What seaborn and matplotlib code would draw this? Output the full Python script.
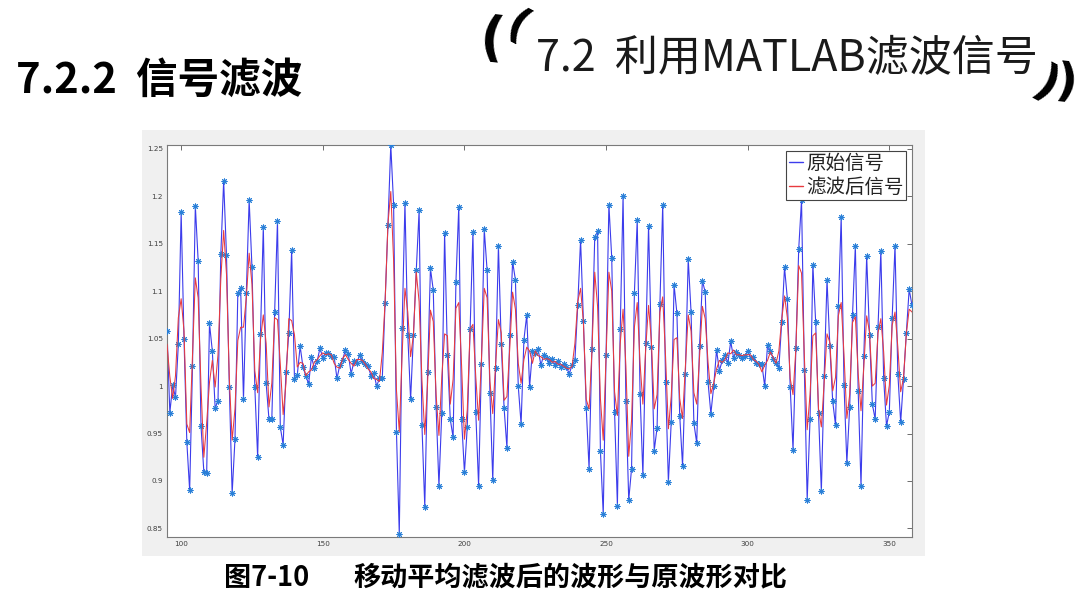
import numpy as np
import pandas as pd
import seaborn as sns
import matplotlib.pyplot as plt
from matplotlib.lines import Line2D

# sample index of the first visible point (MATLAB view zoomed to 95..358)
sample_start = 95

raw_signal = [
    1.058, 0.972, 1.001, 0.988, 1.044, 1.183, 1.050, 0.941, 0.890, 1.021,
    1.190, 1.132, 0.958, 0.910, 0.908, 1.066, 1.037, 0.977, 0.984, 1.139,
    1.216, 1.138, 0.999, 0.887, 0.944, 1.098, 1.103, 0.986, 1.098, 1.196,
    1.125, 0.999, 0.925, 1.055, 1.168, 1.003, 0.965, 0.965, 1.078, 1.174,
    0.957, 0.938, 1.015, 1.056, 1.143, 1.007, 1.012, 1.042, 1.020, 1.011,
    1.002, 1.031, 1.019, 1.026, 1.040, 1.030, 1.035, 1.035, 1.032, 1.031,
    1.008, 1.022, 1.028, 1.038, 1.034, 1.013, 1.026, 1.024, 1.033, 1.026,
    1.023, 1.021, 1.011, 1.014, 1.000, 1.008, 1.008, 1.088, 1.170, 1.254,
    1.191, 0.952, 0.844, 1.061, 1.193, 1.054, 0.986, 1.054, 1.122, 1.185,
    0.959, 0.873, 1.015, 1.124, 1.101, 0.978, 0.895, 0.972, 1.161, 1.033,
    0.965, 0.946, 1.110, 1.189, 0.965, 0.909, 0.957, 1.060, 1.162, 0.973,
    0.895, 1.023, 1.165, 1.122, 0.993, 0.901, 1.019, 1.148, 1.044, 0.977,
    0.935, 1.054, 1.131, 1.112, 1.000, 0.960, 1.049, 1.075, 0.999, 1.037,
    1.035, 1.039, 1.022, 1.033, 1.030, 1.024, 1.029, 1.022, 1.026, 1.020,
    1.023, 1.020, 1.013, 1.022, 1.027, 1.085, 1.154, 1.069, 0.977, 0.913,
    1.039, 1.157, 1.163, 0.932, 0.865, 1.033, 1.191, 1.135, 0.973, 0.874,
    1.060, 1.200, 0.984, 0.880, 0.913, 1.098, 1.175, 0.992, 0.906, 1.045,
    1.169, 1.041, 0.932, 0.956, 1.086, 1.191, 1.004, 0.899, 0.962, 1.107,
    1.077, 0.969, 0.916, 1.013, 1.134, 1.078, 0.961, 0.940, 1.042, 1.111,
    1.099, 1.004, 0.971, 1.000, 1.038, 1.016, 1.027, 1.033, 1.024, 1.047,
    1.030, 1.036, 1.033, 1.030, 1.032, 1.037, 1.030, 1.031, 1.024, 1.023,
    1.023, 1.000, 1.043, 1.037, 1.029, 1.024, 1.019, 1.067, 1.125, 1.092,
    0.999, 0.933, 1.040, 1.144, 1.196, 1.017, 0.880, 0.965, 1.128, 1.067,
    0.972, 0.889, 1.011, 1.112, 1.042, 0.984, 0.959, 1.084, 1.178, 1.001,
    0.919, 0.978, 1.075, 1.148, 0.995, 0.895, 1.032, 1.137, 1.054, 0.981,
    0.965, 1.062, 1.142, 1.008, 0.958, 0.973, 1.072, 1.148, 1.013, 0.962,
    1.007, 1.056, 1.102, 1.085,
]

filtered_signal = [
    1.044, 1.010, 0.987, 1.011, 1.072, 1.092, 1.058, 0.960, 0.951, 1.034,
    1.114, 1.093, 1.000, 0.925, 0.961, 1.004, 1.027, 0.999, 1.033, 1.113,
    1.164, 1.118, 1.008, 0.943, 0.976, 1.048, 1.062, 1.062, 1.093, 1.140,
    1.107, 1.016, 0.993, 1.049, 1.075, 1.045, 0.978, 1.003, 1.072, 1.070,
    1.023, 0.970, 1.003, 1.071, 1.069, 1.054, 1.020, 1.025, 1.024, 1.011,
    1.015, 1.017, 1.025, 1.028, 1.032, 1.035, 1.033, 1.034, 1.033, 1.024,
    1.020, 1.019, 1.029, 1.033, 1.028, 1.024, 1.021, 1.028, 1.028, 1.027,
    1.023, 1.018, 1.015, 1.008, 1.007, 1.005, 1.035, 1.089, 1.171, 1.205,
    1.132, 0.996, 0.952, 1.033, 1.103, 1.078, 1.031, 1.054, 1.120, 1.089,
    1.006, 0.949, 1.004, 1.080, 1.068, 0.991, 0.948, 1.009, 1.055, 1.053,
    0.981, 1.007, 1.082, 1.088, 1.021, 0.944, 0.975, 1.060, 1.065, 1.010,
    0.964, 1.028, 1.103, 1.093, 1.005, 0.971, 1.023, 1.070, 1.056, 0.985,
    0.989, 1.040, 1.099, 1.081, 1.024, 1.003, 1.028, 1.041, 1.037, 1.024,
    1.037, 1.032, 1.031, 1.028, 1.029, 1.028, 1.025, 1.026, 1.023, 1.023,
    1.021, 1.019, 1.018, 1.021, 1.045, 1.089, 1.103, 1.067, 0.986, 0.976,
    1.036, 1.120, 1.084, 0.987, 0.943, 1.030, 1.120, 1.100, 0.994, 0.969,
    1.045, 1.081, 1.021, 0.926, 0.964, 1.062, 1.088, 1.024, 0.981, 1.040,
    1.085, 1.047, 0.976, 0.991, 1.078, 1.094, 1.031, 0.955, 0.989, 1.049,
    1.051, 0.987, 0.966, 1.021, 1.075, 1.058, 0.993, 0.981, 1.031, 1.084,
    1.071, 1.025, 0.992, 1.003, 1.018, 1.027, 1.025, 1.028, 1.035, 1.034,
    1.038, 1.033, 1.033, 1.032, 1.033, 1.033, 1.033, 1.028, 1.026, 1.023,
    1.015, 1.022, 1.027, 1.036, 1.030, 1.024, 1.037, 1.070, 1.095, 1.072,
    1.008, 0.991, 1.039, 1.127, 1.119, 1.031, 0.954, 0.991, 1.053, 1.056,
    0.976, 0.957, 1.004, 1.055, 1.046, 0.995, 1.009, 1.074, 1.088, 1.033,
    0.966, 0.991, 1.067, 1.073, 1.013, 0.974, 1.021, 1.074, 1.057, 1.000,
    1.003, 1.056, 1.071, 1.036, 0.980, 1.001, 1.064, 1.078, 1.041, 0.994,
    1.008, 1.055, 1.081, 1.078,
]

x_ticks = [100, 150, 200, 250, 300, 350]
y_ticks = [0.85, 0.9, 0.95, 1.0, 1.05, 1.1, 1.15, 1.2, 1.25]
y_tick_labels = ["0.85", "0.9", "0.95", "1", "1.05", "1.1", "1.15", "1.2", "1.25"]
legend_labels = ["原始信号", "滤波后信号"]

sample_index = np.arange(sample_start, sample_start + len(raw_signal))
df = pd.DataFrame({"n": sample_index, "raw": raw_signal, "filtered": filtered_signal})

sns.set_style("white")
plt.rcParams["font.family"] = ["Noto Sans CJK SC", "DejaVu Sans"]

W, H = 1080, 607
fig = plt.figure(figsize=(W / 100, H / 100), dpi=100)
fig.patch.set_facecolor("white")


def fx(px):
    return px / W


def fy(py):
    return 1 - py / H


# grey MATLAB figure window behind the axes
bg = fig.add_axes([fx(142), fy(556), (925 - 142) / W, (556 - 130) / H], zorder=0)
bg.set_facecolor("#f0f0f0")
bg.set_xticks([])
bg.set_yticks([])
for sp in bg.spines.values():
    sp.set_visible(False)

ax = fig.add_axes([fx(167), fy(537), (912 - 167) / W, (537 - 145) / H], zorder=1)
ax.set_facecolor("white")

blue = "#3c3cec"
red = "#e83a3f"
star = "#2a80d8"
sns.lineplot(data=df, x="n", y="raw", ax=ax, color=blue, linewidth=0.8, zorder=2)
sns.scatterplot(data=df, x="n", y="raw", ax=ax, marker=(8, 2, 0), s=14, color=star,
                edgecolor=star, linewidth=0.7, zorder=3)
sns.lineplot(data=df, x="n", y="filtered", ax=ax, color=red, linewidth=0.75, zorder=4)

ax.set_xlim(95, 358)
ax.set_ylim(0.841, 1.254)
ax.set_xticks(x_ticks)
ax.set_xticklabels([str(t) for t in x_ticks], family="DejaVu Sans")
ax.set_yticks(y_ticks)
ax.set_yticklabels(y_tick_labels, family="DejaVu Sans")
ax.set_xlabel("")
ax.set_ylabel("")
ax.tick_params(direction="in", top=True, right=True, length=3.5, width=0.6,
               color="#555555", labelsize=5.2, labelcolor="#404040", pad=3)
for sp in ax.spines.values():
    sp.set_color("#7a7a7a")
    sp.set_linewidth(0.8)

handles = [Line2D([0, 1], [0, 0], color=blue, lw=1.0),
           Line2D([0, 1], [0, 0], color=red, lw=1.0)]
leg = ax.legend(handles, legend_labels, loc="upper right", bbox_to_anchor=(0.992, 0.985),
                fontsize=14, handlelength=0.75, handletextpad=0.15, borderpad=0.12,
                labelspacing=0.12, frameon=True, fancybox=False, edgecolor="#444444",
                framealpha=1, borderaxespad=0)
leg.set_zorder(10)
leg.get_frame().set_linewidth(0.8)
for t in leg.get_texts():
    t.set_color("#222222")

# slide headings
fig.text(fx(16), fy(81), "7.2.2  信号滤波", fontsize=30, fontweight="bold",
         color="black", va="center", ha="left")
fig.text(fx(492), fy(40), "(", fontsize=38, fontweight="bold", family="DejaVu Sans",
         color="black", va="center", ha="center", rotation=-6)
fig.text(fx(517), fy(28), "(", fontsize=31, fontweight="bold", family="DejaVu Sans",
         color="black", va="center", ha="center", rotation=-28)
fig.text(fx(536), fy(59), "7.2  利用MATLAB滤波信号", fontsize=31,
         color="#1a1a1a", va="center", ha="left")
fig.text(fx(1045), fy(86), ")", fontsize=34, fontweight="bold", family="DejaVu Sans",
         color="black", va="center", ha="center", rotation=-28)
fig.text(fx(1066), fy(84), ")", fontsize=34, fontweight="bold", family="DejaVu Sans",
         color="black", va="center", ha="center", rotation=-6)

# figure caption
fig.text(fx(224), fy(578), "图7-10", fontsize=19.5, fontweight="bold",
         color="black", va="center", ha="left")
fig.text(fx(353), fy(578), "移动平均滤波后的波形与原波形对比", fontsize=19.5,
         fontweight="bold", color="black", va="center", ha="left")

fig.savefig("out.png", dpi=100)
